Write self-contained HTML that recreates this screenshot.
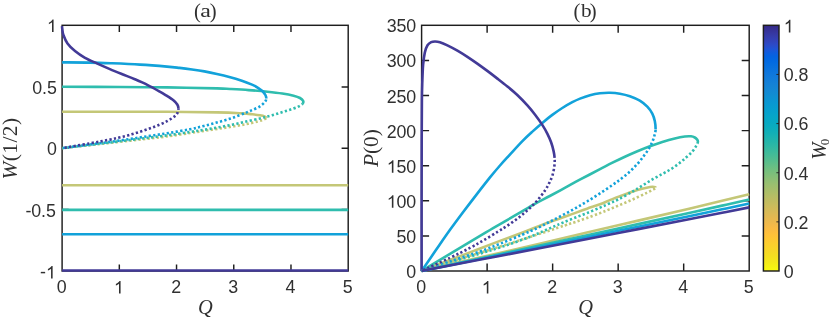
<!DOCTYPE html>
<html><head><meta charset="utf-8"><title>figure</title>
<style>html,body{margin:0;padding:0;background:#fff;}body{width:830px;height:321px;overflow:hidden;}svg{display:block;transform:translateZ(0);}text{font-family:"Liberation Sans",sans-serif;fill:#303030;}.s{font-family:"Liberation Serif",serif;}.i{font-family:"Liberation Serif",serif;font-style:italic;}</style></head><body>
<svg width="830" height="321" viewBox="0 0 830 321">
<rect x="0" y="0" width="830" height="321" fill="#ffffff"/>
<defs><linearGradient id="cb" x1="0" y1="0" x2="0" y2="1">
<stop offset="0.0000" stop-color="#352a87"/>
<stop offset="0.0159" stop-color="#363093"/>
<stop offset="0.0317" stop-color="#3637a0"/>
<stop offset="0.0476" stop-color="#353dad"/>
<stop offset="0.0635" stop-color="#3243ba"/>
<stop offset="0.0794" stop-color="#2c4ac7"/>
<stop offset="0.0952" stop-color="#2053d4"/>
<stop offset="0.1111" stop-color="#0f5cdd"/>
<stop offset="0.1270" stop-color="#0363e1"/>
<stop offset="0.1429" stop-color="#0268e1"/>
<stop offset="0.1587" stop-color="#046de0"/>
<stop offset="0.1746" stop-color="#0871de"/>
<stop offset="0.1905" stop-color="#0d75dc"/>
<stop offset="0.2063" stop-color="#1079da"/>
<stop offset="0.2222" stop-color="#127dd8"/>
<stop offset="0.2381" stop-color="#1481d6"/>
<stop offset="0.2540" stop-color="#1485d4"/>
<stop offset="0.2698" stop-color="#1389d3"/>
<stop offset="0.2857" stop-color="#108ed2"/>
<stop offset="0.3016" stop-color="#0c93d2"/>
<stop offset="0.3175" stop-color="#0998d1"/>
<stop offset="0.3333" stop-color="#079ccf"/>
<stop offset="0.3492" stop-color="#06a0cd"/>
<stop offset="0.3651" stop-color="#06a4ca"/>
<stop offset="0.3810" stop-color="#06a7c6"/>
<stop offset="0.3968" stop-color="#07a9c2"/>
<stop offset="0.4127" stop-color="#0aacbe"/>
<stop offset="0.4286" stop-color="#0faeb9"/>
<stop offset="0.4444" stop-color="#15b1b4"/>
<stop offset="0.4603" stop-color="#1db3af"/>
<stop offset="0.4762" stop-color="#25b5a9"/>
<stop offset="0.4921" stop-color="#2eb7a4"/>
<stop offset="0.5079" stop-color="#38b99e"/>
<stop offset="0.5238" stop-color="#42bb98"/>
<stop offset="0.5397" stop-color="#4dbc92"/>
<stop offset="0.5556" stop-color="#59bd8c"/>
<stop offset="0.5714" stop-color="#65be86"/>
<stop offset="0.5873" stop-color="#71bf80"/>
<stop offset="0.6032" stop-color="#7cbf7b"/>
<stop offset="0.6190" stop-color="#87bf77"/>
<stop offset="0.6349" stop-color="#92bf73"/>
<stop offset="0.6508" stop-color="#9cbf6f"/>
<stop offset="0.6667" stop-color="#a5be6b"/>
<stop offset="0.6825" stop-color="#aebe67"/>
<stop offset="0.6984" stop-color="#b7bd64"/>
<stop offset="0.7143" stop-color="#c0bc60"/>
<stop offset="0.7302" stop-color="#c8bc5d"/>
<stop offset="0.7460" stop-color="#d1bb59"/>
<stop offset="0.7619" stop-color="#d9ba56"/>
<stop offset="0.7778" stop-color="#e1b952"/>
<stop offset="0.7937" stop-color="#e9b94e"/>
<stop offset="0.8095" stop-color="#f1b94a"/>
<stop offset="0.8254" stop-color="#f8bb44"/>
<stop offset="0.8413" stop-color="#fdbe3d"/>
<stop offset="0.8571" stop-color="#ffc337"/>
<stop offset="0.8730" stop-color="#fec832"/>
<stop offset="0.8889" stop-color="#fcce2e"/>
<stop offset="0.9048" stop-color="#fad32a"/>
<stop offset="0.9206" stop-color="#f7d826"/>
<stop offset="0.9365" stop-color="#f5de21"/>
<stop offset="0.9524" stop-color="#f5e41d"/>
<stop offset="0.9683" stop-color="#f5eb18"/>
<stop offset="0.9841" stop-color="#f6f313"/>
<stop offset="1.0000" stop-color="#f9fb0e"/>
</linearGradient>
<clipPath id="ca"><rect x="60.90" y="24.10" width="288.50" height="248.10"/></clipPath>
<clipPath id="cbp"><rect x="420.40" y="24.10" width="330.00" height="248.10"/></clipPath>
<mask id="tm" maskUnits="userSpaceOnUse" x="0" y="0" width="830" height="321"><rect x="0" y="0" width="830" height="321" fill="#fff"/></mask>
</defs>
<path d="M119.32 271.00 V264.40 M119.32 25.30 V31.90 M176.54 271.00 V264.40 M176.54 25.30 V31.90 M233.76 271.00 V264.40 M233.76 25.30 V31.90 M290.98 271.00 V264.40 M290.98 25.30 V31.90 M62.10 86.90 H68.70 M348.20 86.90 H341.60 M62.10 148.20 H68.70 M348.20 148.20 H341.60 M62.10 209.50 H68.70 M348.20 209.50 H341.60 " fill="none" stroke="#1e1e1e" stroke-width="1.45"/>
<rect x="62.10" y="25.30" width="286.10" height="245.70" fill="none" stroke="#1e1e1e" stroke-width="1.45"/>
<g id="pa">
<path d="M62.10 111.70 C71.75 111.70 102.52 111.68 120.00 111.70 C137.48 111.72 150.85 111.68 167.00 111.80 C183.15 111.92 204.43 112.13 216.90 112.40 C229.37 112.67 235.88 113.08 241.80 113.40 C247.72 113.72 249.38 113.98 252.40 114.30 C255.42 114.62 257.87 114.95 259.90 115.30 C261.93 115.65 263.52 115.98 264.60 116.40 C265.68 116.82 266.53 117.27 266.40 117.80" fill="none" stroke="#c4c777" stroke-width="2.60" stroke-linejoin="round" stroke-linecap="butt"/>
<path d="M62.10 148.20 C66.75 147.68 82.02 145.98 90.00 145.10 C97.98 144.22 103.33 143.63 110.00 142.90 C116.67 142.17 123.33 141.43 130.00 140.70 C136.67 139.97 143.33 139.28 150.00 138.50 C156.67 137.72 163.33 136.92 170.00 136.00 C176.67 135.08 184.33 133.85 190.00 133.00 C195.67 132.15 199.33 131.60 204.00 130.90 C208.67 130.20 213.32 129.52 218.00 128.80 C222.68 128.08 227.42 127.37 232.10 126.60 C236.78 125.83 241.78 125.07 246.10 124.20 C250.42 123.33 255.05 122.17 258.00 121.40 C260.95 120.63 262.40 120.20 263.80 119.60 C265.20 119.00 266.27 118.33 266.40 117.80" fill="none" stroke="#c4c777" stroke-width="2.60" stroke-linejoin="round" stroke-linecap="butt" stroke-dasharray="2.25 2.3" stroke-dashoffset="0.45"/>
<path d="M62.10 86.80 C71.75 86.83 102.52 86.90 120.00 87.00 C137.48 87.10 150.85 87.17 167.00 87.40 C183.15 87.63 206.40 88.13 216.90 88.40 C227.40 88.67 224.70 88.72 230.00 89.00 C235.30 89.28 242.47 89.65 248.70 90.10 C254.93 90.55 261.80 91.13 267.40 91.70 C273.00 92.27 277.93 92.83 282.30 93.50 C286.67 94.17 290.65 94.95 293.60 95.70 C296.55 96.45 298.40 97.10 300.00 98.00 C301.60 98.90 302.78 100.13 303.20 101.10 C303.62 102.07 303.33 102.87 302.50 103.80" fill="none" stroke="#2fbdae" stroke-width="2.60" stroke-linejoin="round" stroke-linecap="butt"/>
<path d="M62.10 148.20 C66.75 147.65 82.02 145.85 90.00 144.90 C97.98 143.95 103.33 143.32 110.00 142.50 C116.67 141.68 123.33 140.83 130.00 140.00 C136.67 139.17 143.33 138.35 150.00 137.50 C156.67 136.65 163.33 135.82 170.00 134.90 C176.67 133.98 184.33 132.85 190.00 132.00 C195.67 131.15 199.33 130.57 204.00 129.80 C208.67 129.03 213.32 128.25 218.00 127.40 C222.68 126.55 227.42 125.67 232.10 124.70 C236.78 123.73 241.47 122.65 246.10 121.60 C250.73 120.55 256.35 119.25 259.90 118.40 C263.45 117.55 264.83 117.18 267.40 116.50 C269.97 115.82 272.70 115.07 275.30 114.30 C277.90 113.53 280.43 112.70 283.00 111.90 C285.57 111.10 288.17 110.37 290.70 109.50 C293.23 108.63 296.23 107.65 298.20 106.70 C300.17 105.75 301.67 104.73 302.50 103.80" fill="none" stroke="#2fbdae" stroke-width="2.60" stroke-linejoin="round" stroke-linecap="butt" stroke-dasharray="2.25 2.3" stroke-dashoffset="1.45"/>
<path d="M62.10 62.40 C66.75 62.43 81.68 62.45 90.00 62.60 C98.32 62.75 103.67 62.97 112.00 63.30 C120.33 63.63 130.83 64.05 140.00 64.60 C149.17 65.15 160.42 66.05 167.00 66.60 C173.58 67.15 175.33 67.42 179.50 67.90 C183.67 68.38 187.85 68.92 192.00 69.50 C196.15 70.08 200.25 70.67 204.40 71.40 C208.55 72.13 212.75 72.98 216.90 73.90 C221.05 74.82 225.15 75.77 229.30 76.90 C233.45 78.03 238.02 79.42 241.80 80.70 C245.58 81.98 249.30 83.42 252.00 84.60 C254.70 85.78 256.23 86.70 258.00 87.80 C259.77 88.90 261.37 90.00 262.60 91.20 C263.83 92.40 264.78 93.78 265.40 95.00 C266.02 96.22 266.40 97.32 266.30 98.50" fill="none" stroke="#12a2da" stroke-width="2.60" stroke-linejoin="round" stroke-linecap="butt"/>
<path d="M62.10 148.20 C66.75 147.58 82.02 145.55 90.00 144.50 C97.98 143.45 103.33 142.82 110.00 141.90 C116.67 140.98 123.33 140.00 130.00 139.00 C136.67 138.00 143.33 136.93 150.00 135.90 C156.67 134.87 163.33 133.92 170.00 132.80 C176.67 131.68 184.33 130.35 190.00 129.20 C195.67 128.05 199.33 127.07 204.00 125.90 C208.67 124.73 213.32 123.52 218.00 122.20 C222.68 120.88 227.42 119.60 232.10 118.00 C236.78 116.40 242.72 113.93 246.10 112.60 C249.48 111.27 250.10 111.03 252.40 110.00 C254.70 108.97 257.83 107.72 259.90 106.40 C261.97 105.08 263.73 103.42 264.80 102.10 C265.87 100.78 266.20 99.68 266.30 98.50" fill="none" stroke="#12a2da" stroke-width="2.60" stroke-linejoin="round" stroke-linecap="butt" stroke-dasharray="2.25 2.3" stroke-dashoffset="3.55"/>
<path d="M62.00 26.20 C62.05 26.67 62.07 27.53 62.30 29.00 C62.53 30.47 62.53 32.60 63.40 35.00 C64.27 37.40 65.57 40.73 67.50 43.40 C69.43 46.07 72.08 48.60 75.00 51.00 C77.92 53.40 81.27 55.70 85.00 57.80 C88.73 59.90 93.25 61.72 97.40 63.60 C101.55 65.48 105.75 67.33 109.90 69.10 C114.05 70.87 118.15 72.52 122.30 74.20 C126.45 75.88 130.63 77.43 134.80 79.20 C138.97 80.97 143.13 82.73 147.30 84.80 C151.47 86.87 156.67 89.83 159.80 91.60 C162.93 93.37 163.83 93.95 166.10 95.40 C168.37 96.85 171.53 98.78 173.40 100.30 C175.27 101.82 176.47 103.18 177.30 104.50 C178.13 105.82 178.35 106.85 178.40 108.20" fill="none" stroke="#423a97" stroke-width="2.60" stroke-linejoin="round" stroke-linecap="butt"/>
<path d="M62.10 148.20 C66.75 147.38 82.02 144.73 90.00 143.30 C97.98 141.87 105.12 140.57 110.00 139.60 C114.88 138.63 116.18 138.23 119.30 137.50 C122.42 136.77 125.58 136.05 128.70 135.20 C131.82 134.35 134.78 133.43 138.00 132.40 C141.22 131.37 144.75 130.15 148.00 129.00 C151.25 127.85 154.32 126.80 157.50 125.50 C160.68 124.20 164.28 122.70 167.10 121.20 C169.92 119.70 172.65 117.93 174.40 116.50 C176.15 115.07 176.93 113.98 177.60 112.60 C178.27 111.22 178.45 109.55 178.40 108.20" fill="none" stroke="#423a97" stroke-width="2.60" stroke-linejoin="round" stroke-linecap="butt" stroke-dasharray="2.25 2.3" stroke-dashoffset="2.00"/>
<path d="M62.1 185.30 H348.2" fill="none" stroke="#c4c777" stroke-width="2.60" stroke-linejoin="round" stroke-linecap="butt"/>
<path d="M62.1 209.85 H348.2" fill="none" stroke="#2fbdae" stroke-width="2.60" stroke-linejoin="round" stroke-linecap="butt"/>
<path d="M62.1 234.30 H348.2" fill="none" stroke="#12a2da" stroke-width="2.60" stroke-linejoin="round" stroke-linecap="butt"/>
</g>
<path d="M62.10 270.45 H348.20" fill="none" stroke="#423a97" stroke-width="2.60" stroke-linejoin="round" stroke-linecap="butt"/>
<path d="M487.12 271.00 V263.50 M487.12 25.30 V32.80 M552.64 271.00 V263.50 M552.64 25.30 V32.80 M618.16 271.00 V263.50 M618.16 25.30 V32.80 M683.68 271.00 V263.50 M683.68 25.30 V32.80 M421.60 235.90 H429.10 M749.20 235.90 H741.70 M421.60 200.80 H429.10 M749.20 200.80 H741.70 M421.60 165.70 H429.10 M749.20 165.70 H741.70 M421.60 130.60 H429.10 M749.20 130.60 H741.70 M421.60 95.50 H429.10 M749.20 95.50 H741.70 M421.60 60.40 H429.10 M749.20 60.40 H741.70 " fill="none" stroke="#1e1e1e" stroke-width="1.45"/>
<rect x="421.60" y="25.30" width="327.60" height="245.70" fill="none" stroke="#1e1e1e" stroke-width="1.45"/>
<g id="pb">
<path d="M421.60 270.90 C426.33 269.08 441.00 263.45 450.00 260.00 C459.00 256.55 467.27 253.38 475.60 250.20 C483.93 247.02 492.27 243.82 500.00 240.90 C507.73 237.98 513.70 235.85 522.00 232.70 C530.30 229.55 541.00 225.27 549.80 222.00 C558.60 218.73 568.60 215.32 574.80 213.10 C581.00 210.88 582.80 210.18 587.00 208.70 C591.20 207.22 596.28 205.58 600.00 204.20 C603.72 202.82 606.18 201.67 609.30 200.40 C612.42 199.13 615.58 197.80 618.70 196.60 C621.82 195.40 624.88 194.28 628.00 193.20 C631.12 192.12 634.28 191.02 637.40 190.10 C640.52 189.18 644.18 188.25 646.70 187.70 C649.22 187.15 651.00 186.83 652.50 186.80 C654.00 186.77 655.57 187.05 655.70 187.50" fill="none" stroke="#c4c777" stroke-width="2.60" stroke-linejoin="round" stroke-linecap="butt"/>
<path d="M421.60 270.90 C429.67 268.38 456.93 259.85 470.00 255.80 C483.07 251.75 490.00 249.73 500.00 246.60 C510.00 243.47 519.20 240.53 530.00 237.00 C540.80 233.47 557.33 227.87 564.80 225.40 C572.27 222.93 571.10 223.43 574.80 222.20 C578.50 220.97 582.80 219.52 587.00 218.00 C591.20 216.48 596.28 214.53 600.00 213.10 C603.72 211.67 606.18 210.67 609.30 209.40 C612.42 208.13 615.58 206.82 618.70 205.50 C621.82 204.18 624.88 202.87 628.00 201.50 C631.12 200.13 634.28 198.75 637.40 197.30 C640.52 195.85 644.05 194.10 646.70 192.80 C649.35 191.50 651.80 190.38 653.30 189.50 C654.80 188.62 655.83 187.95 655.70 187.50" fill="none" stroke="#c4c777" stroke-width="2.60" stroke-linejoin="round" stroke-linecap="butt" stroke-dasharray="2.25 2.3"/>
<path d="M421.60 270.90 C429.67 266.07 458.60 248.72 470.00 241.90 C481.40 235.08 484.18 233.42 490.00 230.00 C495.82 226.58 499.92 224.30 504.90 221.40 C509.88 218.50 514.90 215.53 519.90 212.60 C524.90 209.67 529.92 206.57 534.90 203.80 C539.88 201.03 544.82 198.65 549.80 196.00 C554.78 193.35 559.80 190.62 564.80 187.90 C569.80 185.18 573.93 182.82 579.80 179.70 C585.67 176.58 594.55 172.03 600.00 169.20 C605.45 166.37 608.35 164.78 612.50 162.70 C616.65 160.62 620.75 158.62 624.90 156.70 C629.05 154.78 633.23 152.95 637.40 151.20 C641.57 149.45 645.75 147.75 649.90 146.20 C654.05 144.65 658.15 143.20 662.30 141.90 C666.45 140.60 671.05 139.30 674.80 138.40 C678.55 137.50 682.10 136.85 684.80 136.50 C687.50 136.15 689.33 136.13 691.00 136.30 C692.67 136.47 693.77 136.95 694.80 137.50 C695.83 138.05 696.68 138.95 697.20 139.60 C697.72 140.25 697.85 140.77 697.90 141.40 C697.95 142.03 697.82 142.60 697.50 143.40" fill="none" stroke="#2fbdae" stroke-width="2.60" stroke-linejoin="round" stroke-linecap="butt"/>
<path d="M421.60 270.90 C429.67 268.52 456.93 260.52 470.00 256.60 C483.07 252.68 490.00 250.70 500.00 247.40 C510.00 244.10 521.28 240.17 530.00 236.80 C538.72 233.43 546.92 229.52 552.30 227.20 C557.68 224.88 558.55 224.47 562.30 222.90 C566.05 221.33 570.68 219.43 574.80 217.80 C578.92 216.17 582.80 214.80 587.00 213.10 C591.20 211.40 596.28 209.20 600.00 207.60 C603.72 206.00 606.18 204.90 609.30 203.50 C612.42 202.10 614.85 201.18 618.70 199.20 C622.55 197.22 628.45 193.87 632.40 191.60 C636.35 189.33 639.07 187.63 642.40 185.60 C645.73 183.57 649.08 181.33 652.40 179.40 C655.72 177.47 659.18 175.73 662.30 174.00 C665.42 172.27 668.27 170.80 671.10 169.00 C673.93 167.20 676.77 165.15 679.30 163.20 C681.83 161.25 684.13 159.23 686.30 157.30 C688.47 155.37 690.68 153.45 692.30 151.60 C693.92 149.75 695.13 147.57 696.00 146.20 C696.87 144.83 697.18 144.20 697.50 143.40" fill="none" stroke="#2fbdae" stroke-width="2.60" stroke-linejoin="round" stroke-linecap="butt" stroke-dasharray="2.25 2.3" stroke-dashoffset="2.10"/>
<path d="M421.60 270.90 C423.93 267.52 430.95 257.32 435.60 250.60 C440.25 243.88 444.93 236.98 449.50 230.60 C454.07 224.22 458.50 218.30 463.00 212.30 C467.50 206.30 472.00 200.42 476.50 194.60 C481.00 188.78 486.08 182.25 490.00 177.40 C493.92 172.55 496.68 169.30 500.00 165.50 C503.32 161.70 506.17 158.67 509.90 154.60 C513.63 150.53 518.65 144.93 522.40 141.10 C526.15 137.27 529.08 134.63 532.40 131.60 C535.72 128.57 538.98 125.68 542.30 122.90 C545.62 120.12 548.97 117.38 552.30 114.90 C555.63 112.42 558.97 110.12 562.30 108.00 C565.63 105.88 569.35 103.77 572.30 102.20 C575.25 100.63 577.05 99.77 580.00 98.60 C582.95 97.43 586.68 96.08 590.00 95.20 C593.32 94.32 596.58 93.70 599.90 93.30 C603.22 92.90 606.57 92.73 609.90 92.80 C613.23 92.87 616.57 93.13 619.90 93.70 C623.23 94.27 626.58 95.03 629.90 96.20 C633.22 97.37 636.90 98.95 639.80 100.70 C642.70 102.45 645.22 104.55 647.30 106.70 C649.38 108.85 651.05 111.20 652.30 113.60 C653.55 116.00 654.25 118.45 654.80 121.10 C655.35 123.75 655.63 127.18 655.60 129.50" fill="none" stroke="#12a2da" stroke-width="2.60" stroke-linejoin="round" stroke-linecap="butt"/>
<path d="M421.60 270.90 C426.33 269.32 440.27 264.65 450.00 261.40 C459.73 258.15 471.67 254.33 480.00 251.40 C488.33 248.47 493.00 246.57 500.00 243.80 C507.00 241.03 515.77 237.43 522.00 234.80 C528.23 232.17 532.77 230.17 537.40 228.00 C542.03 225.83 545.65 223.92 549.80 221.80 C553.95 219.68 558.13 217.50 562.30 215.30 C566.47 213.10 570.68 210.90 574.80 208.60 C578.92 206.30 582.80 204.03 587.00 201.50 C591.20 198.97 595.75 196.15 600.00 193.40 C604.25 190.65 608.97 187.45 612.50 185.00 C616.03 182.55 618.30 180.95 621.20 178.70 C624.10 176.45 627.20 173.97 629.90 171.50 C632.60 169.03 635.12 166.45 637.40 163.90 C639.68 161.35 641.70 158.73 643.60 156.20 C645.50 153.67 647.30 151.20 648.80 148.70 C650.30 146.20 651.63 143.48 652.60 141.20 C653.57 138.92 654.10 136.95 654.60 135.00 C655.10 133.05 655.57 131.82 655.60 129.50" fill="none" stroke="#12a2da" stroke-width="2.60" stroke-linejoin="round" stroke-linecap="butt" stroke-dasharray="2.25 2.3" stroke-dashoffset="2.35"/>
<path d="M421.60 270.90 C421.60 259.08 421.58 221.82 421.60 200.00 C421.62 178.18 421.65 156.67 421.70 140.00 C421.75 123.33 421.80 109.62 421.90 100.00 C422.00 90.38 422.10 88.15 422.30 82.30 C422.50 76.45 422.68 69.85 423.10 64.90 C423.52 59.95 424.07 55.87 424.80 52.60 C425.53 49.33 426.43 47.03 427.50 45.30 C428.57 43.57 429.95 42.83 431.20 42.20 C432.45 41.57 433.55 41.50 435.00 41.50 C436.45 41.50 437.83 41.57 439.90 42.20 C441.97 42.83 444.48 43.90 447.40 45.30 C450.32 46.70 454.07 48.68 457.40 50.60 C460.73 52.52 464.08 54.63 467.40 56.80 C470.72 58.97 473.98 61.25 477.30 63.60 C480.62 65.95 483.95 68.40 487.30 70.90 C490.65 73.40 494.05 76.00 497.40 78.60 C500.75 81.20 504.08 83.77 507.40 86.50 C510.72 89.23 513.97 91.85 517.30 95.00 C520.63 98.15 524.47 102.15 527.40 105.40 C530.33 108.65 532.42 111.25 534.90 114.50 C537.38 117.75 540.23 121.72 542.30 124.90 C544.37 128.08 545.83 130.70 547.30 133.60 C548.77 136.50 550.05 139.38 551.10 142.30 C552.15 145.22 553.02 148.52 553.60 151.10 C554.18 153.68 554.45 155.48 554.60 157.80" fill="none" stroke="#423a97" stroke-width="2.60" stroke-linejoin="round" stroke-linecap="butt"/>
<path d="M421.60 270.90 C426.33 268.72 441.93 261.63 450.00 257.80 C458.07 253.97 464.33 250.85 470.00 247.90 C475.67 244.95 479.33 242.82 484.00 240.10 C488.67 237.38 494.10 234.02 498.00 231.60 C501.90 229.18 504.17 227.77 507.40 225.60 C510.63 223.43 514.28 220.97 517.40 218.60 C520.52 216.23 523.40 213.75 526.10 211.40 C528.80 209.05 531.30 206.83 533.60 204.50 C535.90 202.17 537.95 199.83 539.90 197.40 C541.85 194.97 543.73 192.32 545.30 189.90 C546.87 187.48 548.08 185.40 549.30 182.90 C550.52 180.40 551.73 177.88 552.60 174.90 C553.47 171.92 554.17 167.85 554.50 165.00 C554.83 162.15 554.75 160.12 554.60 157.80" fill="none" stroke="#423a97" stroke-width="2.60" stroke-linejoin="round" stroke-linecap="butt" stroke-dasharray="2.25 2.3" stroke-dashoffset="2.85"/>
<path d="M421.60 270.90 C431.43 268.64 460.91 261.86 480.57 257.32 C500.22 252.78 516.60 248.99 539.54 243.66 C562.47 238.32 593.04 231.20 618.16 225.32 C643.28 219.45 672.21 212.67 690.23 208.42 C708.25 204.17 716.44 202.19 726.27 199.84 C736.10 197.48 745.38 195.22 749.20 194.30" fill="none" stroke="#c4c777" stroke-width="2.60" stroke-linejoin="round" stroke-linecap="butt"/>
<path d="M421.60 270.90 C431.43 268.80 460.91 262.51 480.57 258.29 C500.22 254.07 516.60 250.54 539.54 245.58 C562.47 240.61 593.04 233.97 618.16 228.50 C643.28 223.03 672.21 216.70 690.23 212.73 C708.25 208.76 716.44 206.90 726.27 204.70 C736.10 202.49 745.38 200.37 749.20 199.50" fill="none" stroke="#2fbdae" stroke-width="2.60" stroke-linejoin="round" stroke-linecap="butt"/>
<path d="M421.60 270.90 C431.43 268.91 460.91 262.96 480.57 258.97 C500.22 254.98 516.60 251.64 539.54 246.96 C562.47 242.27 593.04 236.01 618.16 230.85 C643.28 225.69 672.21 219.73 690.23 216.00 C708.25 212.27 716.44 210.53 726.27 208.46 C736.10 206.39 745.38 204.41 749.20 203.60" fill="none" stroke="#12a2da" stroke-width="2.60" stroke-linejoin="round" stroke-linecap="butt"/>
<path d="M421.60 270.90 C431.43 269.01 460.91 263.37 480.57 259.59 C500.22 255.81 516.60 252.66 539.54 248.23 C562.47 243.80 593.04 237.89 618.16 233.02 C643.28 228.15 672.21 222.53 690.23 219.02 C708.25 215.51 716.44 213.88 726.27 211.94 C736.10 210.01 745.38 208.16 749.20 207.40" fill="none" stroke="#423a97" stroke-width="2.60" stroke-linejoin="round" stroke-linecap="butt"/>
</g>
<rect x="763.40" y="25.30" width="15.60" height="245.70" fill="url(#cb)" stroke="#1e1e1e" stroke-width="1.45"/>
<path d="M779.00 221.86 H776.40 M779.00 172.72 H776.40 M779.00 123.58 H776.40 M779.00 74.44 H776.40 " fill="none" stroke="#1e1e1e" stroke-width="0.9"/>
<g mask="url(#tm)">
<g transform="translate(46.93 32.05) scale(1.0220 1)">
<path transform="translate(0.00 0) scale(17.450 -17.450)" d="M0.3726 0H0.2847V0.5601Q0.2529 0.5298 0.2014 0.4995T0.1089 0.4541V0.5391Q0.1821 0.5735 0.2368 0.6226T0.3145 0.7178H0.3726Z" fill="#303030"/>
</g>
<g transform="translate(32.20 93.75) scale(1.0220 1)">
<text x="0.00 9.56 14.41" y="0" font-size="17.45" fill="#303030">0.5</text>
</g>
<g transform="translate(46.93 155.40) scale(1.0220 1)">
<text x="0.00" y="0" font-size="17.45" fill="#303030">0</text>
</g>
<g transform="translate(25.41 217.15) scale(1.0220 1)">
<text x="0.00 5.81 15.37 20.22" y="0" font-size="17.45" fill="#303030">-0.5</text>
</g>
<g transform="translate(40.04 278.45) scale(1.0220 1)">
<path transform="translate(5.81 0) scale(17.450 -17.450)" d="M0.3726 0H0.2847V0.5601Q0.2529 0.5298 0.2014 0.4995T0.1089 0.4541V0.5391Q0.1821 0.5735 0.2368 0.6226T0.3145 0.7178H0.3726Z" fill="#303030"/>
<text x="0.00" y="0" font-size="17.45" fill="#303030">-</text>
</g>
<g transform="translate(56.71 293.45) scale(1.0220 1)">
<text x="0.00" y="0" font-size="17.45" fill="#303030">0</text>
</g>
<g transform="translate(113.93 293.45) scale(1.0220 1)">
<path transform="translate(0.00 0) scale(17.450 -17.450)" d="M0.3726 0H0.2847V0.5601Q0.2529 0.5298 0.2014 0.4995T0.1089 0.4541V0.5391Q0.1821 0.5735 0.2368 0.6226T0.3145 0.7178H0.3726Z" fill="#303030"/>
</g>
<g transform="translate(171.15 293.45) scale(1.0220 1)">
<text x="0.00" y="0" font-size="17.45" fill="#303030">2</text>
</g>
<g transform="translate(228.37 293.45) scale(1.0220 1)">
<text x="0.00" y="0" font-size="17.45" fill="#303030">3</text>
</g>
<g transform="translate(285.59 293.45) scale(1.0220 1)">
<text x="0.00" y="0" font-size="17.45" fill="#303030">4</text>
</g>
<g transform="translate(342.81 293.45) scale(1.0220 1)">
<text x="0.00" y="0" font-size="17.45" fill="#303030">5</text>
</g>
<g transform="translate(406.33 278.00) scale(1.0220 1)">
<text x="0.00" y="0" font-size="17.45" fill="#303030">0</text>
</g>
<g transform="translate(396.55 242.90) scale(1.0220 1)">
<text x="0.00 9.56" y="0" font-size="17.45" fill="#303030">50</text>
</g>
<g transform="translate(386.78 207.80) scale(1.0220 1)">
<path transform="translate(0.00 0) scale(17.450 -17.450)" d="M0.3726 0H0.2847V0.5601Q0.2529 0.5298 0.2014 0.4995T0.1089 0.4541V0.5391Q0.1821 0.5735 0.2368 0.6226T0.3145 0.7178H0.3726Z" fill="#303030"/>
<text x="9.56 19.13" y="0" font-size="17.45" fill="#303030">00</text>
</g>
<g transform="translate(386.78 172.70) scale(1.0220 1)">
<path transform="translate(0.00 0) scale(17.450 -17.450)" d="M0.3726 0H0.2847V0.5601Q0.2529 0.5298 0.2014 0.4995T0.1089 0.4541V0.5391Q0.1821 0.5735 0.2368 0.6226T0.3145 0.7178H0.3726Z" fill="#303030"/>
<text x="9.56 19.13" y="0" font-size="17.45" fill="#303030">50</text>
</g>
<g transform="translate(386.78 137.60) scale(1.0220 1)">
<text x="0.00 9.56 19.13" y="0" font-size="17.45" fill="#303030">200</text>
</g>
<g transform="translate(386.78 102.50) scale(1.0220 1)">
<text x="0.00 9.56 19.13" y="0" font-size="17.45" fill="#303030">250</text>
</g>
<g transform="translate(386.78 67.40) scale(1.0220 1)">
<text x="0.00 9.56 19.13" y="0" font-size="17.45" fill="#303030">300</text>
</g>
<g transform="translate(386.78 32.30) scale(1.0220 1)">
<text x="0.00 9.56 19.13" y="0" font-size="17.45" fill="#303030">350</text>
</g>
<g transform="translate(416.21 293.45) scale(1.0220 1)">
<text x="0.00" y="0" font-size="17.45" fill="#303030">0</text>
</g>
<g transform="translate(481.73 293.45) scale(1.0220 1)">
<path transform="translate(0.00 0) scale(17.450 -17.450)" d="M0.3726 0H0.2847V0.5601Q0.2529 0.5298 0.2014 0.4995T0.1089 0.4541V0.5391Q0.1821 0.5735 0.2368 0.6226T0.3145 0.7178H0.3726Z" fill="#303030"/>
</g>
<g transform="translate(547.25 293.45) scale(1.0220 1)">
<text x="0.00" y="0" font-size="17.45" fill="#303030">2</text>
</g>
<g transform="translate(612.77 293.45) scale(1.0220 1)">
<text x="0.00" y="0" font-size="17.45" fill="#303030">3</text>
</g>
<g transform="translate(678.29 293.45) scale(1.0220 1)">
<text x="0.00" y="0" font-size="17.45" fill="#303030">4</text>
</g>
<g transform="translate(743.81 293.45) scale(1.0220 1)">
<text x="0.00" y="0" font-size="17.45" fill="#303030">5</text>
</g>
<g transform="translate(783.75 278.45) scale(1.0220 1)">
<text x="0.00" y="0" font-size="17.45" fill="#303030">0</text>
</g>
<g transform="translate(783.75 229.11) scale(1.0220 1)">
<text x="0.00 9.56 14.41" y="0" font-size="17.45" fill="#303030">0.2</text>
</g>
<g transform="translate(783.75 179.87) scale(1.0220 1)">
<text x="0.00 9.56 14.41" y="0" font-size="17.45" fill="#303030">0.4</text>
</g>
<g transform="translate(783.75 130.48) scale(1.0220 1)">
<text x="0.00 9.56 14.41" y="0" font-size="17.45" fill="#303030">0.6</text>
</g>
<g transform="translate(783.75 81.09) scale(1.0220 1)">
<text x="0.00 9.56 14.41" y="0" font-size="17.45" fill="#303030">0.8</text>
</g>
<g transform="translate(783.75 32.40) scale(1.0220 1)">
<path transform="translate(0.00 0) scale(17.450 -17.450)" d="M0.3726 0H0.2847V0.5601Q0.2529 0.5298 0.2014 0.4995T0.1089 0.4541V0.5391Q0.1821 0.5735 0.2368 0.6226T0.3145 0.7178H0.3726Z" fill="#303030"/>
</g>
<text class="s" x="194.00" y="17.7" font-size="20.6" fill="#303030">(</text>
<text class="s" x="200.20" y="17.3" font-size="18.6" fill="#303030" textLength="10.65" lengthAdjust="spacingAndGlyphs">a</text>
<text class="s" x="209.80" y="17.7" font-size="20.6" fill="#303030">)</text>
<text class="s" x="573.50" y="17.7" font-size="20.6" fill="#303030">(</text>
<text class="s" x="580.90" y="17.3" font-size="18.6" fill="#303030" textLength="10.60" lengthAdjust="spacingAndGlyphs">b</text>
<text class="s" x="589.80" y="17.7" font-size="20.6" fill="#303030">)</text>
<text class="i" x="205.3" y="313.5" font-size="20.4" text-anchor="middle" fill="#303030">Q</text>
<text class="i" x="585.5" y="313.5" font-size="20.4" text-anchor="middle" fill="#303030">Q</text>
<text class="s" transform="translate(17.0 148.5) rotate(-90)" font-size="21.3" text-anchor="middle" letter-spacing="0.45"><tspan class="i">W</tspan>(1/2)</text>
<text class="s" transform="translate(377.6 148.1) rotate(-90)" font-size="21.3" text-anchor="middle"><tspan class="i">P</tspan>(0)</text>
<text class="s" transform="translate(825.9 159.7) rotate(-90)" font-size="20.6" text-anchor="start"><tspan class="i">W</tspan><tspan font-size="13" dy="3.1" dx="-2.6">0</tspan></text>
</g>
</svg></body></html>
